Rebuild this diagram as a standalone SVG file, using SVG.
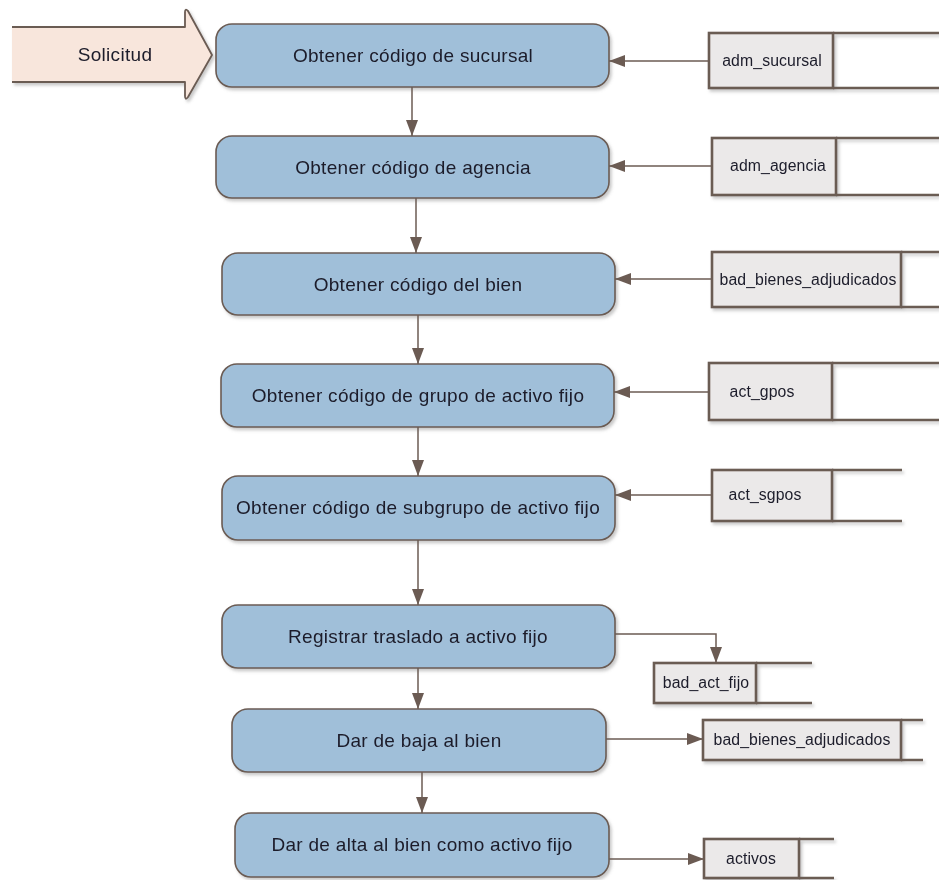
<svg xmlns="http://www.w3.org/2000/svg" width="939" height="880" viewBox="0 0 939 880">
<defs>
<style>
.node{fill:#a0bfd9;stroke:#6b5b53;stroke-width:1.6;}
.nt{font-family:"Liberation Sans",Arial,sans-serif;font-size:19px;letter-spacing:0.3px;fill:#1c1c2a;text-anchor:middle;}
.st{font-family:"Liberation Sans",Arial,sans-serif;font-size:15.8px;letter-spacing:0.1px;fill:#1c1c2a;text-anchor:middle;}
.sbox{fill:#ebe9e9;stroke:#6b5b53;stroke-width:2.6;}
.sline{fill:none;stroke:#6b5b53;stroke-width:2.6;}
.conn{fill:none;stroke:#6b5b53;stroke-width:1.5;marker-end:url(#ah);}
</style>
<marker id="ah" viewBox="0 0 16 12" refX="16" refY="6" markerWidth="16" markerHeight="12" orient="auto" markerUnits="userSpaceOnUse">
<path d="M0,0 L16,6 L0,12 z" fill="#6b5b53"/>
</marker>
<filter id="sh" x="-10%" y="-10%" width="130%" height="140%">
<feDropShadow dx="2" dy="2.5" stdDeviation="1.5" flood-color="#888" flood-opacity="0.45"/>
</filter>
</defs>
<rect width="939" height="880" fill="#ffffff"/>

<g id="solicitud" filter="url(#sh)">
<path d="M12,27 L185,27 L185,12 Q185,8 188,11 L212,55 L188,97 Q185,101 185,96 L185,82 L12,82 Z" fill="#f8e6dc" stroke="none"/>
<path d="M12,27 L185,27 L185,12 Q185,8 188,11 L212,55 L188,97 Q185,101 185,96 L185,82 L12,82" fill="none" stroke="#6b5b53" stroke-width="1.8" stroke-linejoin="round"/>
<text class="nt" x="115" y="61">Solicitud</text>
</g>

<g id="n1" filter="url(#sh)"><rect class="node" x="216" y="24" width="393" height="63" rx="16"/><text class="nt" x="413" y="62">Obtener código de sucursal</text></g>
<g id="n2" filter="url(#sh)"><rect class="node" x="216" y="136" width="393" height="62" rx="16"/><text class="nt" x="413" y="174">Obtener código de agencia</text></g>
<g id="n3" filter="url(#sh)"><rect class="node" x="222" y="253" width="393" height="62" rx="16"/><text class="nt" x="418" y="291">Obtener código del bien</text></g>
<g id="n4" filter="url(#sh)"><rect class="node" x="221" y="364" width="393" height="63" rx="16"/><text class="nt" x="418" y="402">Obtener código de grupo de activo fijo</text></g>
<g id="n5" filter="url(#sh)"><rect class="node" x="222" y="476" width="393" height="64" rx="16"/><text class="nt" x="418" y="514">Obtener código de subgrupo de activo fijo</text></g>
<g id="n6" filter="url(#sh)"><rect class="node" x="222" y="605" width="393" height="63" rx="16"/><text class="nt" x="418" y="643">Registrar traslado a activo fijo</text></g>
<g id="n7" filter="url(#sh)"><rect class="node" x="232" y="709" width="374" height="63" rx="16"/><text class="nt" x="419" y="747">Dar de baja al bien</text></g>
<g id="n8" filter="url(#sh)"><rect class="node" x="235" y="813" width="374" height="64" rx="16"/><text class="nt" x="422" y="851">Dar de alta al bien como activo fijo</text></g>

<g id="s1" filter="url(#sh)">
<path class="sline" d="M833,33 L939,33 M833,88 L939,88"/>
<rect class="sbox" x="709" y="33" width="124" height="55"/>
<text class="st" x="772" y="66">adm_sucursal</text>
</g>
<g id="s2" filter="url(#sh)">
<path class="sline" d="M836,138 L939,138 M836,195 L939,195"/>
<rect class="sbox" x="712" y="138" width="124" height="57"/>
<text class="st" x="778" y="171">adm_agencia</text>
</g>
<g id="s3" filter="url(#sh)">
<path class="sline" d="M901,252 L939,252 M901,307 L939,307"/>
<rect class="sbox" x="712" y="252" width="189" height="55"/>
<text class="st" x="808" y="285">bad_bienes_adjudicados</text>
</g>
<g id="s4" filter="url(#sh)">
<path class="sline" d="M832,363 L939,363 M832,420 L939,420"/>
<rect class="sbox" x="709" y="363" width="123" height="57"/>
<text class="st" x="762" y="397">act_gpos</text>
</g>
<g id="s5" filter="url(#sh)">
<path class="sline" d="M832,470 L902,470 M832,521 L902,521"/>
<rect class="sbox" x="712" y="470" width="120" height="51"/>
<text class="st" x="765" y="500">act_sgpos</text>
</g>
<g id="s6" filter="url(#sh)">
<path class="sline" d="M756,663 L812,663 M756,703 L812,703"/>
<rect class="sbox" x="654" y="663" width="102" height="40"/>
<text class="st" x="706" y="688">bad_act_fijo</text>
</g>
<g id="s7" filter="url(#sh)">
<path class="sline" d="M901,720 L923,720 M901,760 L923,760"/>
<rect class="sbox" x="703" y="720" width="198" height="40"/>
<text class="st" x="802" y="745">bad_bienes_adjudicados</text>
</g>
<g id="s8" filter="url(#sh)">
<path class="sline" d="M799,839 L834,839 M799,878 L834,878"/>
<rect class="sbox" x="704" y="839" width="95" height="39"/>
<text class="st" x="751" y="864">activos</text>
</g>

<g id="connectors">
<path class="conn" d="M412,87 L412,136"/>
<path class="conn" d="M416,198 L416,253"/>
<path class="conn" d="M418,315 L418,364"/>
<path class="conn" d="M418,427 L418,476"/>
<path class="conn" d="M418,540 L418,605"/>
<path class="conn" d="M418,668 L418,709"/>
<path class="conn" d="M422,772 L422,813"/>
<path class="conn" d="M709,61 L609,61"/>
<path class="conn" d="M712,166 L609,166"/>
<path class="conn" d="M712,279 L615,279"/>
<path class="conn" d="M709,392 L614,392"/>
<path class="conn" d="M712,495 L615,495"/>
<path class="conn" d="M615,634 L716,634 L716,663"/>
<path class="conn" d="M606,739 L703,739"/>
<path class="conn" d="M609,859 L704,859"/>
</g>
</svg>
